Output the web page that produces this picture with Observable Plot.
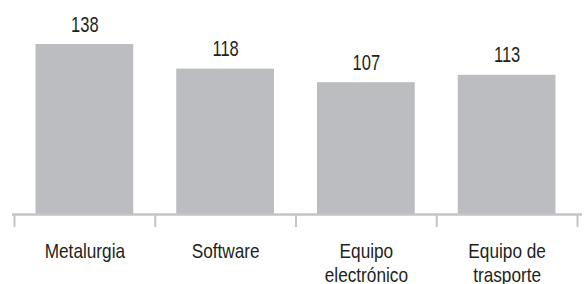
<!DOCTYPE html>
<html>
<head>
<meta charset="utf-8">
<script src="https://cdn.jsdelivr.net/npm/d3@7"></script>
<script src="https://cdn.jsdelivr.net/npm/@observablehq/plot@0.6"></script>
<style>
  html, body { margin: 0; padding: 0; background: #fff; }
  #chart svg { display: block; }
</style>
</head>
<body>
<div id="chart"></div>
<script>
const categories = ["Metalurgia", "Software", "Equipo\nelectrónico", "Equipo de\ntrasporte"];
const values = [138, 118, 107, 113];

const data = categories.map((c, i) => ({ i, category: c, value: values[i] }));
const boundaries = d3.range(categories.length + 1).map(k => k - 0.5);

const font = "'Liberation Sans', Arial, sans-serif";
const gray = "#bcbdc0";
const axisGray = "#c3c4c7";
const textColor = "#231f20";

const chart = Plot.plot({
  width: 584,
  height: 284,
  marginTop: 44,
  marginBottom: 70,
  marginLeft: 12,
  marginRight: 2,
  style: { fontFamily: font, background: "#fff" },
  x: { type: "linear", domain: [-0.5, categories.length - 0.5], range: [14, 577], axis: null },
  y: { domain: [0, d3.max(values)], axis: null },
  marks: [
    Plot.rectY(data, { x1: d => d.i - 0.5, x2: d => d.i + 0.5, y: "value", fill: gray, insetLeft: 21.5, insetRight: 21.5 }),
    Plot.ruleY([0], { stroke: axisGray, strokeWidth: 2.5 }),
    Plot.axisX(boundaries, { anchor: "bottom", label: null, tickSize: 13, stroke: axisGray, strokeWidth: 2, tickFormat: () => "" }),
    Plot.axisX(data.map(d => d.i), {
      anchor: "bottom", label: null, tickSize: 0, tickPadding: 26,
      tickFormat: k => categories[k], fontSize: 21, fill: textColor, lineHeight: 1.16,
      lineAnchor: "top"
    }),
    Plot.text(data, { x: "i", y: "value", text: d => String(d.value), dy: -13, lineAnchor: "bottom", fontSize: 22, fill: textColor })
  ]
});
document.getElementById("chart").appendChild(chart);

// condense glyphs horizontally (the reference uses a condensed typeface)
function condenseAll() {
  chart.querySelectorAll("text").forEach(t => {
    const spans = t.querySelectorAll("tspan");
    const parts = spans.length ? Array.from(spans) : [t];
    const numeric = /^\s*\d+\s*$/.test(t.textContent);
    const factor = numeric ? 0.75 : 0.82;
    parts.forEach(p => {
      const len = p.getComputedTextLength();
      if (len > 0) {
        p.setAttribute("textLength", (len * factor).toFixed(2));
        p.setAttribute("lengthAdjust", "spacingAndGlyphs");
      }
    });
  });
}
condenseAll();
</script>
</body>
</html>
